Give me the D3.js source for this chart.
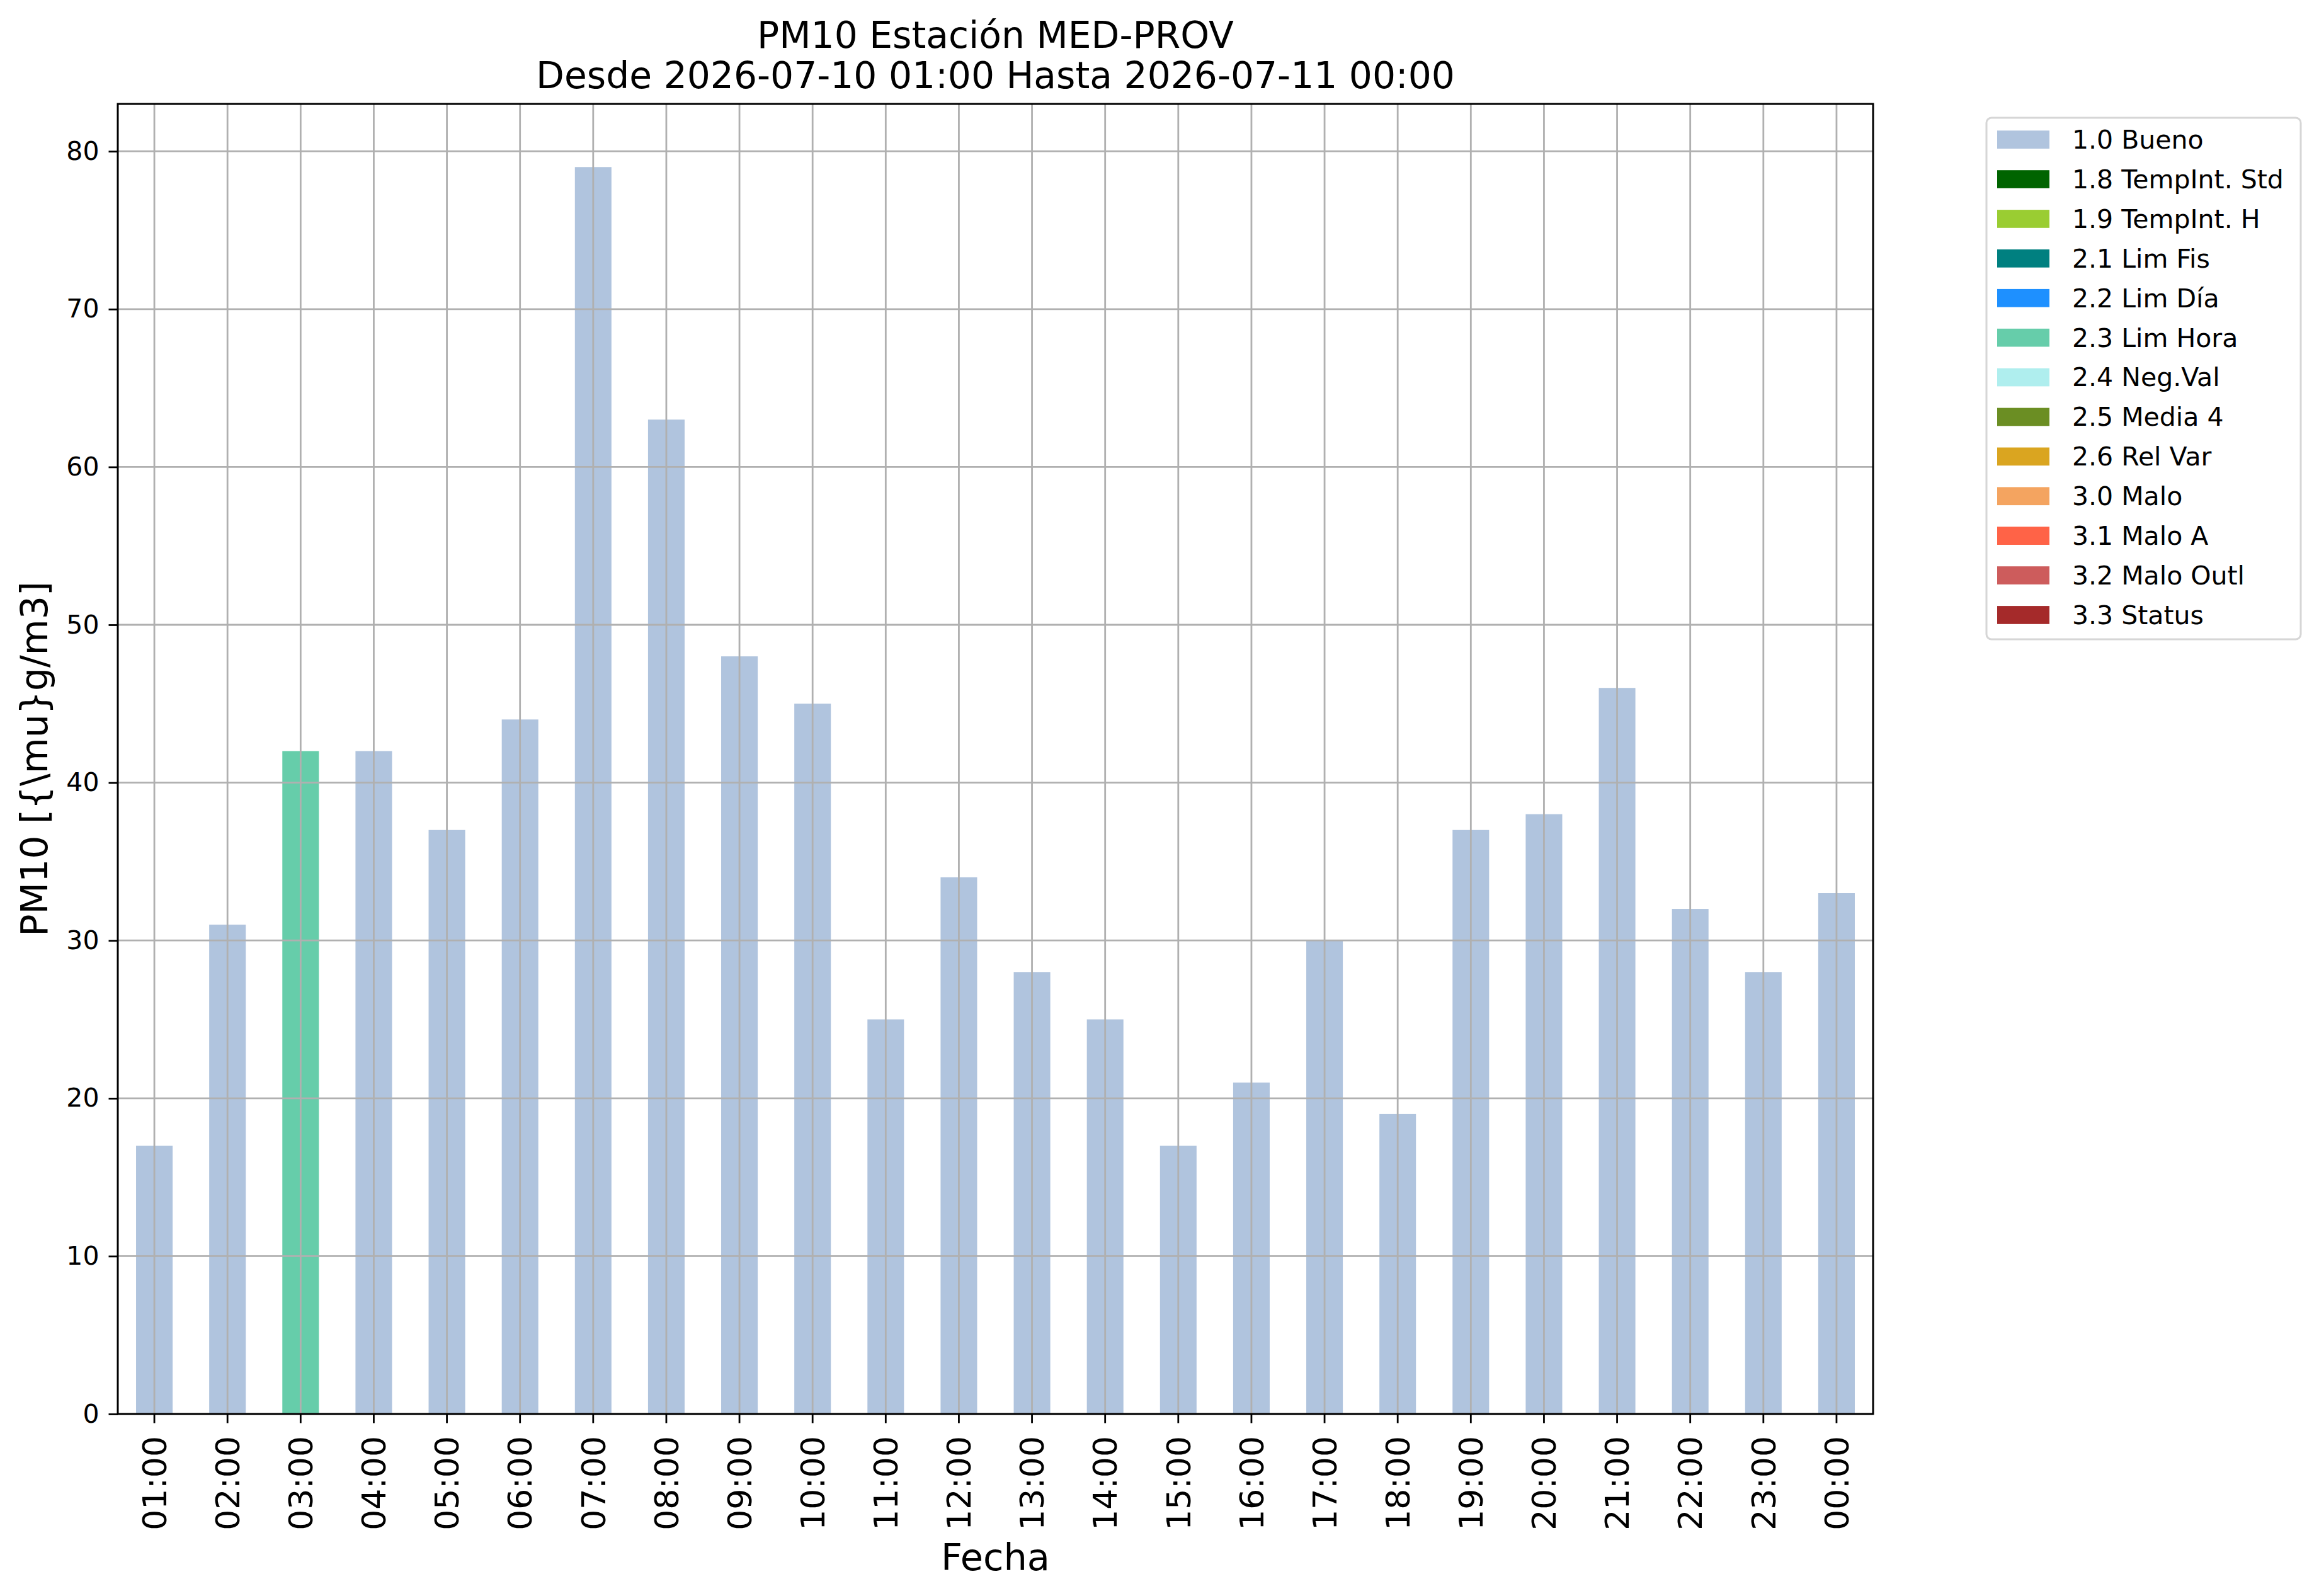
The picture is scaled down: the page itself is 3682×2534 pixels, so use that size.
<!DOCTYPE html>
<html>
<head>
<meta charset="utf-8">
<script src="https://cdn.jsdelivr.net/npm/d3@7"></script>
<style>
  body { margin: 0; background: #fff; }
  svg { display: block; font-family: "DejaVu Sans", sans-serif; }
</style>
</head>
<body>
<svg id="chart" width="3682" height="2534"></svg>
<script>
// Data.
var hours = ["01:00", "02:00", "03:00", "04:00", "05:00", "06:00", "07:00", "08:00",
  "09:00", "10:00", "11:00", "12:00", "13:00", "14:00", "15:00", "16:00",
  "17:00", "18:00", "19:00", "20:00", "21:00", "22:00", "23:00", "00:00"];
var pm10 = [17, 31, 42, 42, 37, 44, 79, 63, 48, 45, 25, 34, 28, 25, 17, 21, 30, 19, 37, 38, 46, 32, 28, 33];
var flags = ["1.0 Bueno", "1.0 Bueno", "2.3 Lim Hora", "1.0 Bueno", "1.0 Bueno", "1.0 Bueno",
  "1.0 Bueno", "1.0 Bueno", "1.0 Bueno", "1.0 Bueno", "1.0 Bueno", "1.0 Bueno",
  "1.0 Bueno", "1.0 Bueno", "1.0 Bueno", "1.0 Bueno", "1.0 Bueno", "1.0 Bueno",
  "1.0 Bueno", "1.0 Bueno", "1.0 Bueno", "1.0 Bueno", "1.0 Bueno", "1.0 Bueno"];
var categories = ["1.0 Bueno", "1.8 TempInt. Std", "1.9 TempInt. H", "2.1 Lim Fis", "2.2 Lim Día",
  "2.3 Lim Hora", "2.4 Neg.Val", "2.5 Media 4", "2.6 Rel Var", "3.0 Malo", "3.1 Malo A",
  "3.2 Malo Outl", "3.3 Status"];
var catColors = ["#b0c4de", "#006400", "#9acd32", "#008080", "#1e90ff", "#66cdaa", "#afeeee",
  "#6b8e23", "#daa520", "#f4a460", "#ff6347", "#cd5c5c", "#a52a2a"];
var yTicks = [0, 10, 20, 30, 40, 50, 60, 70, 80];

var plot = {left: 187, right: 2974, top: 165, bottom: 2245};
var gridColor = "#b0b0b0";

var svg = d3.select("#chart");
svg.append("rect").attr("width", 3682).attr("height", 2534).attr("fill", "#fff");

var x = d3.scaleBand().domain(hours).range([plot.left, plot.right]).paddingInner(0.5).paddingOuter(0.25);
var y = d3.scaleLinear().domain([0, 83]).range([plot.bottom, plot.top]);
var color = d3.scaleOrdinal().domain(categories).range(catColors);

// Bars.
svg.append("g").selectAll("rect")
  .data(hours)
  .join("rect")
    .attr("x", function(d){ return x(d); })
    .attr("y", function(d, i){ return y(pm10[i]); })
    .attr("width", x.bandwidth())
    .attr("height", function(d, i){ return y(0) - y(pm10[i]); })
    .attr("fill", function(d, i){ return color(flags[i]); });

// Grid on top of the bars, like the original.
var grid = svg.append("g").attr("stroke", gridColor).attr("stroke-width", 2.8);
grid.selectAll("line.v").data(hours).join("line").attr("class", "v")
  .attr("x1", function(d){ return x(d) + x.bandwidth() / 2; })
  .attr("x2", function(d){ return x(d) + x.bandwidth() / 2; })
  .attr("y1", plot.top).attr("y2", plot.bottom);
grid.selectAll("line.h").data(yTicks).join("line").attr("class", "h")
  .attr("x1", plot.left).attr("x2", plot.right)
  .attr("y1", function(d){ return y(d); }).attr("y2", function(d){ return y(d); });

// Axes.
var yAxis = d3.axisLeft(y).tickValues(yTicks).tickSize(14.5).tickPadding(15).tickFormat(d3.format("d"));
var gy = svg.append("g").attr("transform", "translate(" + plot.left + ",0)").call(yAxis);
gy.select(".domain").remove();
gy.selectAll(".tick line").attr("stroke", "#000").attr("stroke-width", 2.8);
gy.selectAll(".tick text").attr("font-size", 41).attr("font-family", "DejaVu Sans").attr("fill", "#000");

var xAxis = d3.axisBottom(x).tickSize(14.5).tickPadding(0);
var gx = svg.append("g").attr("transform", "translate(0," + plot.bottom + ")").call(xAxis);
gx.select(".domain").remove();
gx.selectAll(".tick line").attr("stroke", "#000").attr("stroke-width", 2.8);
gx.selectAll(".tick text")
  .attr("font-size", 52).attr("font-family", "DejaVu Sans").attr("fill", "#000")
  .attr("text-anchor", "end")
  .attr("transform", "translate(0,35) rotate(-90)")
  .attr("x", 0).attr("y", 0).attr("dy", "0.36em");

// Frame.
svg.append("rect")
  .attr("x", plot.left).attr("y", plot.top)
  .attr("width", plot.right - plot.left).attr("height", plot.bottom - plot.top)
  .attr("fill", "none").attr("stroke", "#000").attr("stroke-width", 3);

// Titles and labels.
var title = svg.append("text").attr("text-anchor", "middle").attr("font-size", 58.3);
title.append("tspan").attr("x", (plot.left + plot.right) / 2).attr("y", 76).text("PM10 Estación MED-PROV");
title.append("tspan").attr("x", (plot.left + plot.right) / 2).attr("y", 140).text("Desde 2026-07-10 01:00 Hasta 2026-07-11 00:00");

svg.append("text").attr("text-anchor", "middle").attr("font-size", 59)
  .attr("x", (plot.left + plot.right) / 2).attr("y", 2493).text("Fecha");

svg.append("text").attr("text-anchor", "middle").attr("font-size", 58.5)
  .attr("transform", "translate(75," + (plot.top + plot.bottom) / 2 + ") rotate(-90)")
  .text("PM10 [{\\mu}g/m3]");

// Legend.
var legend = svg.append("g");
legend.append("rect")
  .attr("x", 3154).attr("y", 187).attr("width", 499).attr("height", 828).attr("rx", 8)
  .attr("fill", "#fff").attr("stroke", "#d6d6d6").attr("stroke-width", 3);
var rows = legend.selectAll("g.row").data(categories).join("g").attr("class", "row")
  .attr("transform", function(d, i){ return "translate(0," + (i * 62.9) + ")"; });
rows.append("rect").attr("x", 3171).attr("y", 207.3).attr("width", 83).attr("height", 28.7)
  .attr("fill", function(d){ return color(d); });
rows.append("text").attr("x", 3290).attr("y", 236).attr("font-size", 41)
  .text(function(d){ return d; });
</script>
</body>
</html>
